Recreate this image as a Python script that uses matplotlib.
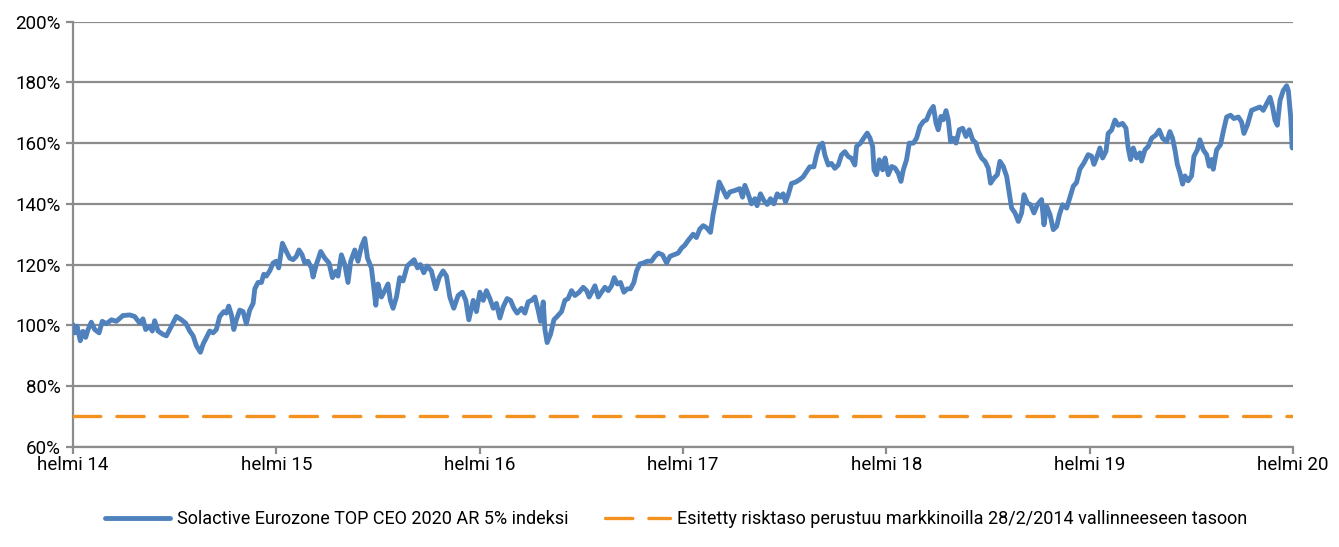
import matplotlib
matplotlib.use("Agg")
import matplotlib.pyplot as plt
import numpy as np

plt.rcParams['font.family'] = ['Roboto', 'DejaVu Sans']

# ====== data (months since helmi 2014, index level in %) ======
months_14 = [0.00, 0.10, 0.24, 0.43, 0.59, 0.75, 0.89, 1.08, 1.28, 1.54, 1.73, 1.97, 2.27, 2.56,
             2.95, 3.35, 3.64, 3.94, 4.13, 4.29, 4.53, 4.68, 4.82, 5.02, 5.31, 5.51, 5.81, 6.10,
             6.40, 6.65, 6.89, 7.09, 7.28, 7.52, 7.68, 7.87, 8.07, 8.27, 8.46, 8.66, 8.90, 9.05,
             9.19, 9.35, 9.49, 9.64, 9.84, 10.04, 10.23, 10.43, 10.63, 10.73, 10.92, 11.12, 11.26,
             11.41, 11.61, 11.81, 12.00, 12.14, 12.36, 12.59]
values_14 = [100.2, 97.5, 99.7, 94.9, 98.0, 96.0, 98.6, 101.0, 98.6, 97.5, 101.3, 100.5, 101.8, 101.3,
             103.2, 103.4, 102.9, 100.7, 102.1, 98.6, 99.7, 98.1, 101.5, 98.1, 97.0, 96.5, 99.7, 102.9,
             101.8, 100.7, 98.1, 96.5, 93.3, 91.1, 93.8, 95.9, 98.1, 97.5, 98.6, 102.9, 104.5, 104.0,
             106.3, 103.4, 98.6, 101.8, 105.0, 104.5, 100.5, 105.0, 107.2, 112.0, 114.1, 114.1, 116.8,
             116.2, 117.9, 120.5, 121.1, 118.9, 127.0, 124.3]

months_15 = [12.79, 12.99, 13.18, 13.34, 13.52, 13.68, 13.87, 14.07, 14.17, 14.36, 14.62, 14.86, 15.11,
             15.31, 15.51, 15.64, 15.84, 16.04, 16.23, 16.39, 16.63, 16.82, 17.02, 17.22, 17.38, 17.61,
             17.75, 17.87, 18.00, 18.20, 18.40, 18.59, 18.73, 18.89, 19.09, 19.28, 19.48, 19.72, 19.91,
             20.13, 20.33, 20.50, 20.70, 20.90, 21.15, 21.41, 21.61, 21.84, 22.04, 22.24, 22.47, 22.73,
             22.98, 23.18, 23.36]
values_15 = [122.1, 121.6, 122.7, 124.8, 123.2, 120.5, 121.1, 118.9, 115.9, 120.0, 124.3, 122.1, 120.5,
             115.7, 117.8, 116.2, 123.2, 120.0, 114.1, 121.1, 124.8, 121.1, 125.9, 128.6, 122.1, 118.9,
             112.5, 106.6, 113.6, 109.3, 111.4, 113.6, 108.2, 105.6, 109.3, 115.7, 114.6, 119.5, 120.5,
             121.6, 118.9, 120.0, 117.3, 119.5, 117.9, 112.0, 115.7, 117.9, 116.2, 109.3, 105.6, 109.8,
             110.9, 108.2, 101.8]

months_16 = [23.62, 23.81, 24.01, 24.21, 24.40, 24.60, 24.80, 24.99, 25.19, 25.39, 25.62, 25.82, 26.02,
             26.21, 26.47, 26.67, 26.86, 27.06, 27.26, 27.45, 27.59, 27.75, 27.85, 27.98, 28.18, 28.38,
             28.57, 28.83, 29.03, 29.22, 29.42, 29.62, 29.87, 30.11, 30.31, 30.46, 30.66, 30.80, 31.00,
             31.19, 31.39, 31.59, 31.78, 31.94, 32.12, 32.31, 32.51, 32.71, 32.90, 33.10, 33.26, 33.45,
             33.65, 33.89, 34.14, 34.34, 34.54, 34.79, 35.03, 35.23, 35.46, 35.72, 35.91, 36.11, 36.31]
values_16 = [108.2, 104.5, 110.9, 108.2, 111.4, 108.8, 105.6, 107.2, 102.4, 106.1, 108.8, 108.2, 105.6,
             104.0, 105.6, 104.0, 107.7, 108.2, 109.3, 105.0, 101.3, 107.7, 98.6, 94.3, 97.0, 101.8,
             102.9, 104.5, 108.2, 108.8, 111.4, 109.8, 110.9, 112.5, 111.4, 109.3, 111.4, 113.0, 109.3,
             110.9, 112.5, 111.4, 113.0, 115.7, 113.6, 114.1, 110.9, 112.0, 112.0, 114.1, 117.9, 120.2,
             120.5, 121.1, 121.1, 122.7, 123.8, 123.2, 120.5, 122.7, 123.2, 123.8, 125.4, 126.4, 128.0]

months_17 = [36.60, 36.79, 36.99, 37.19, 37.38, 37.62, 37.78, 37.94, 38.13, 38.33, 38.57, 38.76, 39.06,
             39.35, 39.51, 39.65, 39.84, 40.04, 40.24, 40.37, 40.57, 40.77, 40.97, 41.16, 41.36, 41.56,
             41.75, 41.91, 42.05, 42.20, 42.40, 42.66, 42.89, 43.09, 43.29, 43.48, 43.72, 43.88, 44.03,
             44.23, 44.37, 44.57, 44.76, 44.96, 45.16, 45.35, 45.55, 45.75, 45.94, 46.14, 46.24, 46.47,
             46.67, 46.87, 47.03]
values_17 = [130.0, 128.9, 131.7, 132.8, 132.2, 130.6, 136.7, 141.1, 147.2, 145.0, 142.2, 143.9, 144.4,
             145.0, 142.2, 146.1, 143.3, 140.0, 141.7, 139.4, 143.3, 141.1, 139.8, 141.7, 140.0, 143.3,
             142.2, 143.3, 140.6, 142.8, 146.7, 147.2, 148.0, 148.9, 150.6, 152.2, 152.2, 156.1, 158.9,
             160.0, 156.1, 152.8, 153.3, 151.7, 152.8, 156.1, 157.2, 155.6, 155.0, 152.8, 158.9, 160.0,
             161.7, 163.3, 161.7]

months_18 = [47.19, 47.27, 47.42, 47.58, 47.78, 47.92, 48.11, 48.31, 48.51, 48.70, 48.86, 49.00, 49.19,
             49.35, 49.59, 49.78, 49.98, 50.18, 50.37, 50.57, 50.77, 50.93, 51.06, 51.22, 51.36, 51.52,
             51.65, 51.79, 51.95, 52.11, 52.30, 52.50, 52.70, 52.89, 53.09, 53.29, 53.42, 53.62, 53.82,
             54.01, 54.15, 54.35, 54.55, 54.70, 54.90, 55.10, 55.25, 55.39, 55.59, 55.79, 55.98, 56.12,
             56.32, 56.51, 56.71, 56.91, 57.16, 57.30, 57.46, 57.66, 57.85, 58.05, 58.21, 58.40, 58.64]
values_18 = [158.9, 151.2, 149.6, 154.5, 151.2, 155.1, 149.6, 152.3, 151.8, 150.1, 147.4, 151.2, 154.5,
             160.0, 160.0, 161.6, 165.5, 167.1, 167.7, 170.4, 172.1, 166.6, 164.4, 168.8, 167.7, 170.7,
             167.7, 160.5, 161.6, 160.0, 164.4, 164.9, 162.2, 164.4, 161.1, 160.0, 157.3, 155.1, 154.0,
             151.8, 146.8, 148.5, 149.6, 154.0, 152.3, 149.0, 143.6, 138.6, 137.0, 134.2, 137.0, 143.0,
             140.3, 139.7, 137.0, 139.7, 141.4, 133.1, 139.2, 136.4, 131.5, 132.6, 136.4, 139.7, 138.6]

months_19 = [59.03, 59.22, 59.42, 59.66, 59.91, 60.11, 60.25, 60.40, 60.60, 60.76, 60.96, 61.09, 61.29,
             61.49, 61.68, 61.94, 62.14, 62.27, 62.41, 62.57, 62.77, 62.96, 63.06, 63.26, 63.45, 63.65,
             63.91, 64.10, 64.30, 64.54, 64.73, 64.89, 65.03, 65.17, 65.32, 65.48, 65.62, 65.81, 66.01,
             66.15, 66.35, 66.50, 66.70, 66.90, 67.05, 67.19, 67.29, 67.49, 67.72, 67.88, 68.08, 68.31,
             68.51, 68.77, 68.96, 69.10, 69.30, 69.55, 69.81, 70.05, 70.24, 70.44, 70.64, 70.79, 70.93,
             71.07, 71.23, 71.42, 71.62, 71.72, 71.86, 71.95, 72.00]
values_19 = [145.8, 147.0, 151.4, 153.5, 156.2, 155.7, 153.0, 155.1, 158.4, 155.1, 157.3, 163.2, 164.3,
             167.6, 165.9, 166.5, 164.9, 158.4, 154.6, 158.4, 155.1, 156.8, 154.1, 157.8, 158.9, 161.6,
             162.7, 164.3, 161.6, 160.5, 163.8, 161.6, 157.8, 153.0, 150.3, 146.5, 149.2, 147.6, 149.2,
             155.7, 157.8, 161.1, 157.8, 156.2, 152.4, 154.6, 151.4, 157.8, 159.5, 163.8, 168.6, 169.2,
             168.1, 168.6, 167.0, 163.2, 165.9, 170.8, 171.4, 171.9, 170.8, 173.0, 175.1, 171.9, 167.6,
             165.9, 174.1, 177.3, 178.9, 177.3, 168.6, 158.4, 167.6]

months = months_14 + months_15 + months_16 + months_17 + months_18 + months_19
index_values = values_14 + values_15 + values_16 + values_17 + values_18 + values_19

risk_level = 70.0
tick_months = [0, 12, 24, 36, 48, 60, 72]
tick_labels = ["helmi 14", "helmi 15", "helmi 16", "helmi 17", "helmi 18", "helmi 19", "helmi 20"]
y_ticks = [60, 80, 100, 120, 140, 160, 180, 200]

label_index = "Solactive Eurozone TOP CEO 2020 AR 5% indeksi"
label_risk = "Esitetty risktaso perustuu markkinoilla 28/2/2014 vallinneeseen tasoon"

# ====== plot ======
fig = plt.figure(figsize=(13.39, 5.47), dpi=100)
ax = fig.add_axes([0.0545, 0.1834, 0.9112, 0.7769])

grid_col = "#8c8c8c"
ax.plot(months, index_values, color="#4F81BD", lw=3.5, solid_joinstyle="round",
        solid_capstyle="round", label=label_index, zorder=3)
ax.plot([0, 72], [risk_level, risk_level], color="#F4921F", lw=2.4,
        dashes=(8.2, 4.8), dash_capstyle="round", label=label_risk, zorder=3)

ax.set_xlim(0, 72)
ax.set_ylim(60, 200)
ax.set_xticks(tick_months)
ax.set_xticklabels(tick_labels)
ax.set_yticks(y_ticks)
ax.set_yticklabels([f"{v}%" for v in y_ticks])

ax.grid(axis="y", color=grid_col, lw=1.6)
ax.set_axisbelow(True)
for side in ["top", "right"]:
    ax.spines[side].set_visible(False)
for side in ["left", "bottom"]:
    ax.spines[side].set_color(grid_col)
    ax.spines[side].set_linewidth(1.6)
ax.tick_params(axis="both", colors=grid_col, width=1.6, length=5, labelsize=13.5,
               labelcolor="black")
ax.tick_params(axis="x", pad=2)
ax.tick_params(axis="y", pad=4)

fig.legend(loc="lower center", bbox_to_anchor=(0.505, 0.005), ncol=2, frameon=False,
           fontsize=13, handlelength=3.6, handletextpad=0.4, columnspacing=2.0)

plt.savefig("out.png", dpi=100)
plt.close()
